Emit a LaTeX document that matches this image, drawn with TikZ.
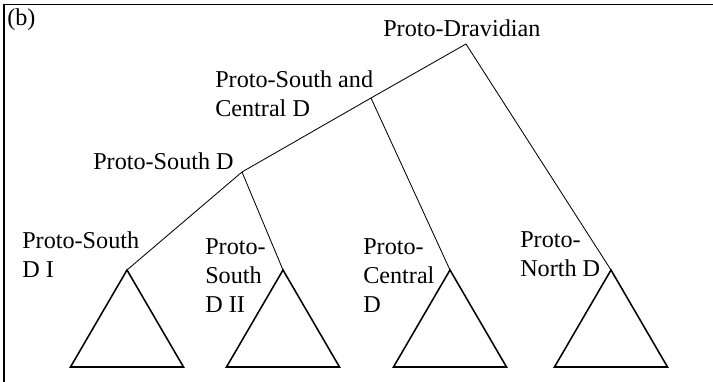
\documentclass[tikz,border=0pt]{standalone}
\usepackage{fontspec}
\setmainfont{Liberation Serif}
\begin{document}
\begin{tikzpicture}[font=\fontsize{17.2}{20.8}\selectfont,
		lbl/.style={inner sep=0pt, align=left},
		branch/.style={line width=0.6pt},
		tri/.style={line width=1.1pt, line join=miter}]
	\useasboundingbox (0,0) rectangle (17.825,9.55);
	\draw[line width=1pt] (17.825,9.4375) -- (0.1,9.4375) -- (0.1,0);  % frame
	\node[lbl, anchor=base west] (tag) at (0.175,8.9) {(b)};
	% branching points
	\coordinate (pd) at (11.65,8.45);
	\coordinate (psc) at (9.275,7.1);
	\coordinate (psd) at (6.05,5.25);
	\coordinate (psd1) at (3.175,2.8);
	\coordinate (psd2) at (7.075,2.8);
	\coordinate (pcd) at (11.25,2.8);
	\coordinate (pnd) at (15.275,2.8);
	% labels
	\node[lbl, anchor=base west] (pdtext) at (9.575,8.625) {Proto-Dravidian};
	\node[lbl, anchor=north west] (psctext) at (5.375,7.79) {Proto-South and\\Central D};
	\node[lbl, anchor=base west] (psdtext) at (2.325,5.3) {Proto-South D};
	\node[lbl, anchor=north west] (psd1text) at (0.55,3.765) {Proto-South\\D I};
	\node[lbl, anchor=north west] (psd2text) at (5.125,3.59) {Proto-\\South\\D II};
	\node[lbl, anchor=north west] (pcdtext) at (9.075,3.59) {Proto-\\Central\\D};
	\node[lbl, anchor=north west] (pndtext) at (13.0,3.765) {Proto-\\North D};
	% tree
	\draw[branch] (pd) -- (psc) -- (psd) -- (psd1);
	\draw[branch] (psd) -- (psd2);
	\draw[branch] (psc) -- (pcd);
	\draw[branch] (pd) -- (pnd);
	\foreach \c in {psd1,psd2,pcd,pnd}
		\draw[tri] (\c) -- ++(-1.4125,-2.425) -- ++(2.825,0) -- cycle;
\end{tikzpicture}
\end{document}
